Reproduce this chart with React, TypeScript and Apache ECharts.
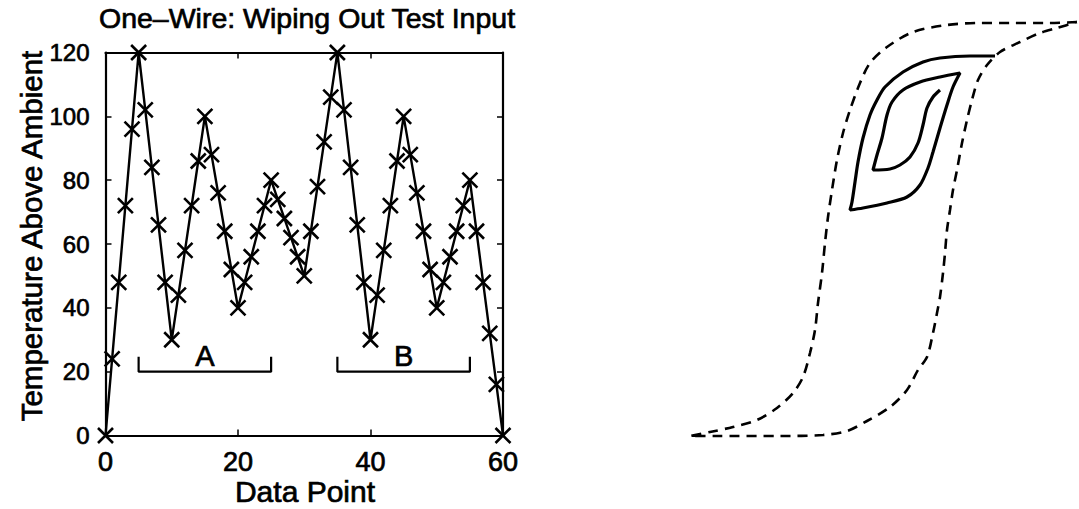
import React, { useEffect, useRef } from "react";
import * as echarts from "echarts";

// Left panel: temperature above ambient for each data point (index = data point)
const temperature = [
  0, 24, 48, 72, 96, 120, 102, 84, 66, 48, 30, 44, 58, 72, 86, 100, 88, 76, 64, 52, 40,
  48, 56, 64, 72, 80, 74, 68, 62, 56, 50, 64, 78, 92, 106, 120, 102, 84, 66, 48, 30,
  44, 58, 72, 86, 100, 88, 76, 64, 52, 40, 48, 56, 64, 72, 80, 64, 48, 32, 16, 0,
];
const xTicks = [0, 20, 40, 60];
const yTicks = [0, 20, 40, 60, 80, 100, 120];

// Brackets A and B (data point range, level)
const bracketA = [[5, 24.7], [5, 20], [25, 20], [25, 24.7]];
const bracketB = [[35, 24.7], [35, 20], [55, 20], [55, 24.7]];
const bracketLabels = [[15, 25, "A"], [45, 25, "B"]];

// Right panel: schematic hysteresis (H, B in arbitrary units)
const majorLoopDescending = [
  [197, 208], [167, 207], [133, 207], [100, 207], [67, 205], [33, 198], [7, 183],
  [-10, 167], [-20, 147], [-30, 120], [-37, 97], [-43, 70], [-48, 40], [-52, 13],
  [-55, -13], [-58, -43], [-62, -73], [-65, -100], [-70, -123], [-77, -147],
  [-87, -163], [-103, -178], [-123, -190], [-147, -197], [-170, -202], [-190, -206],
];
const majorLoopAscending = [
  [-190, -206], [-167, -206], [-100, -206], [-57, -205], [-33, -201], [-13, -191],
  [10, -177], [27, -160], [38, -140], [47, -127], [53, -103], [57, -83], [60, -67],
  [63, -43], [65, -23], [67, 0], [70, 20], [73, 40], [77, 60], [82, 87], [87, 110],
  [92, 130], [98, 150], [107, 165], [120, 178], [140, 188], [160, 197], [177, 202],
  [197, 208],
];
const minorLoops = [
  [115, 174], [90, 174], [60, 172], [43, 168], [23, 158], [5, 143], [-3, 130],
  [-10, 115], [-17, 92], [-22, 68], [-25, 48], [-28, 28], [-30, 20], [-17, 22],
  [7, 27], [27, 33], [40, 45], [48, 62], [53, 78], [60, 102], [67, 125], [73, 143],
  [80, 157], [60, 153], [40, 148], [23, 140], [12, 128], [7, 115], [2, 92],
  [-3, 75], [-7, 60], [10, 61], [20, 65], [30, 73], [38, 87], [43, 105], [47, 122],
  [53, 133], [60, 140],
];

const FONT = "'Liberation Sans', Arial, Helvetica, sans-serif";
const CROSS = "path://M0,0L10,10M10,0L0,10";
const INK = { textBorderColor: "#000", textBorderWidth: 0.7 };

export default function App() {
  const ref = useRef<HTMLDivElement>(null);
  useEffect(() => {
    if (!ref.current) return;
    const chart = echarts.init(ref.current, undefined, { renderer: "svg" });
    const axisLine = { show: true, onZero: false, lineStyle: { color: "#000", width: 2.2 } };
    const tick = { show: true, inside: true, length: 6, lineStyle: { color: "#000", width: 1.5 } };
    chart.setOption({
      animation: false,
      backgroundColor: "#fff",
      textStyle: { fontFamily: FONT, color: "#000" },
      grid: [
        { left: 105.5, top: 52.5, width: 397.5, height: 383, containLabel: false },
        { left: 680, top: 10, width: 399, height: 440, containLabel: false },
      ],
      xAxis: [
        {
          type: "value", gridIndex: 0, position: "bottom", min: 0, max: 60, interval: 20,
          axisLine, axisTick: tick, splitLine: { show: false },
          axisLabel: { fontSize: 27, color: "#000", fontFamily: FONT, margin: 26, verticalAlign: "middle",
            customValues: xTicks, ...INK },
        },
        {
          type: "value", gridIndex: 0, position: "top", min: 0, max: 60, interval: 20,
          axisLine, axisTick: tick, splitLine: { show: false }, axisLabel: { show: false },
        },
        { type: "value", gridIndex: 1, min: -200, max: 199, show: false },
      ],
      yAxis: [
        {
          type: "value", gridIndex: 0, position: "left", min: 0, max: 120, interval: 20,
          axisLine, axisTick: tick, splitLine: { show: false },
          axisLabel: { fontSize: 24, color: "#000", fontFamily: FONT, margin: 16, customValues: yTicks, ...INK },
        },
        {
          type: "value", gridIndex: 0, position: "right", min: 0, max: 120, interval: 20,
          axisLine, axisTick: tick, splitLine: { show: false }, axisLabel: { show: false },
        },
        { type: "value", gridIndex: 1, min: -220, max: 220, show: false },
      ],
      series: [
        {
          type: "line", name: "Temperature", xAxisIndex: 0, yAxisIndex: 0,
          data: temperature.map((t, i) => [i, t]),
          symbol: CROSS, symbolSize: 15, showAllSymbol: true, clip: false,
          lineStyle: { color: "#000", width: 2.4 },
          itemStyle: { color: "#000", borderColor: "#000", borderWidth: 2.6 },
        },
        {
          type: "line", name: "A", xAxisIndex: 0, yAxisIndex: 0, data: bracketA,
          showSymbol: false, lineStyle: { color: "#000", width: 2.2 },
        },
        {
          type: "line", name: "B", xAxisIndex: 0, yAxisIndex: 0, data: bracketB,
          showSymbol: false, lineStyle: { color: "#000", width: 2.2 },
        },
        {
          type: "scatter", xAxisIndex: 0, yAxisIndex: 0, data: bracketLabels,
          symbolSize: 0, itemStyle: { opacity: 1, color: "#000" },
          label: {
            show: true, position: "inside", fontSize: 29, color: "#000", fontFamily: FONT,
            formatter: (p: any) => p.data[2], ...INK,
          },
        },
        {
          type: "line", name: "major loop", xAxisIndex: 2, yAxisIndex: 2,
          data: [...majorLoopDescending, ...majorLoopAscending.slice(1)],
          showSymbol: false, smooth: 0.3, clip: false,
          lineStyle: { color: "#000", width: 2.6, type: [10, 7] },
        },
        {
          type: "line", name: "minor loops", xAxisIndex: 2, yAxisIndex: 2,
          data: minorLoops, showSymbol: false, smooth: 0.3, clip: false,
          lineStyle: { color: "#000", width: 3.2 },
        },
      ],
      graphic: [
        {
          type: "text", x: 307, y: 17.5,
          style: { text: "One\u2013Wire: Wiping Out Test Input", font: `28.5px ${FONT}`, fill: "#000",
            align: "center", verticalAlign: "middle", stroke: "#000", lineWidth: 0.7 },
        },
        {
          type: "text", x: 305, y: 491.5,
          style: { text: "Data Point", font: `30px ${FONT}`, fill: "#000", align: "center", verticalAlign: "middle",
            stroke: "#000", lineWidth: 0.7 },
        },
        {
          type: "text", x: 31.5, y: 236, rotation: Math.PI / 2,
          style: { text: "Temperature Above Ambient", font: `29.5px ${FONT}`, fill: "#000",
            align: "center", verticalAlign: "middle", stroke: "#000", lineWidth: 0.7 },
        },
      ],
    });
    return () => chart.dispose();
  }, []);
  return (
    <div
      ref={ref}
      style={{ position: "fixed", left: 0, top: 0, width: 1079, height: 509, background: "#fff" }}
    />
  );
}
